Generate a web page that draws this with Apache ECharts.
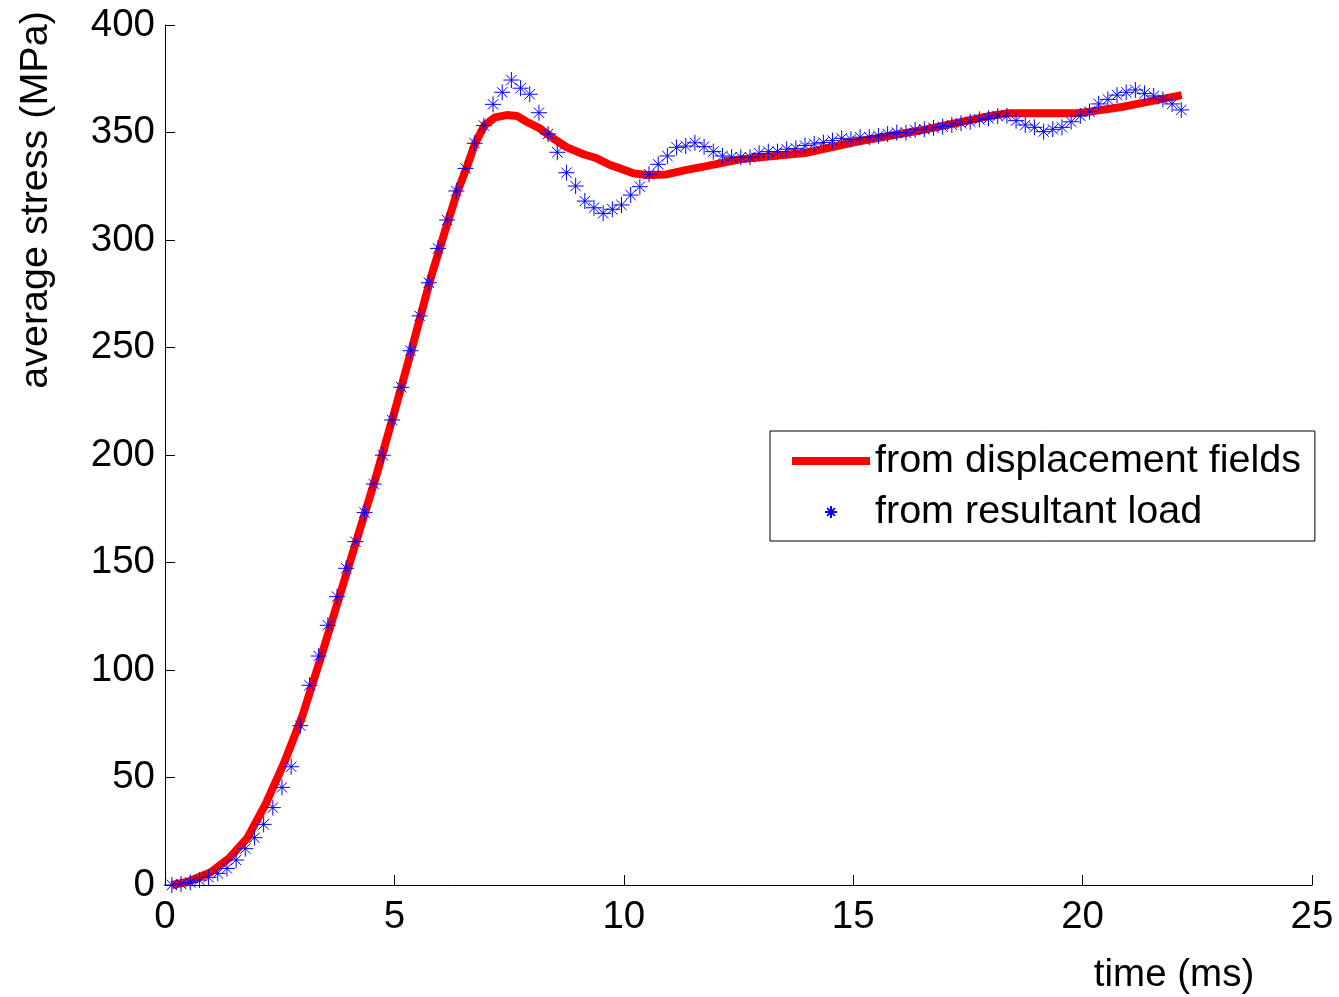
<!DOCTYPE html>
<html>
<head>
<meta charset="utf-8">
<script src="https://cdn.jsdelivr.net/npm/echarts@6/dist/echarts.min.js"></script>
<style>
html,body{margin:0;padding:0;background:#fff;}
#chart{width:1339px;height:997px;}
</style>
</head>
<body>
<div id="chart"></div>
<script>
// ---- data ----
const seriesNames = ['from displacement fields', 'from resultant load'];
const xAxisTitle = 'time (ms)';
const yAxisTitle = 'average stress (MPa)';
const xRange = [0, 25];
const xStep = 5;
const yRange = [0, 400];
const yStep = 50;

// red line: stress from displacement fields
const dispTime = [0.15, 0.5, 1.0, 1.4, 1.8, 2.2, 2.6, 3.0, 3.4, 3.8, 4.2, 4.6, 5.0, 5.4, 5.8, 6.13,
  6.36, 6.58, 6.76, 6.97, 7.19, 7.45, 7.67, 7.88, 8.17, 8.46, 8.76, 9.12, 9.41, 9.70, 9.92,
  10.21, 10.5, 10.93, 11.37, 11.66, 12.53, 13.99, 15.07, 16.53, 17.98, 18.35, 19.8, 20.16, 20.89, 22.16];
const dispStress = [0, 1.5, 6, 12.5, 22, 38, 57, 79, 106, 134, 162, 190, 220, 251, 283, 306,
  321.7, 334, 345, 353.5, 357, 358.1, 357.7, 355, 351.9, 347.3, 343.1, 339.9, 338, 334.9, 333.3,
  331, 330.2, 330.5, 332.6, 333.8, 337.5, 340.6, 345.7, 351.2, 357.7, 358.9, 358.9, 359.7, 362, 367.4];

// blue asterisks: stress from resultant load
const loadTime = [0.15, 0.35, 0.55, 0.75, 0.95, 1.15, 1.35, 1.55, 1.75, 1.95,
  2.15, 2.35, 2.55, 2.75, 2.95, 3.15, 3.35, 3.55, 3.75, 3.95,
  4.15, 4.35, 4.55, 4.75, 4.95, 5.15, 5.35, 5.55, 5.75, 5.95,
  6.15, 6.35, 6.55, 6.75, 6.95, 7.15, 7.35, 7.55, 7.75, 7.95,
  8.15, 8.35, 8.55, 8.75, 8.95, 9.15, 9.35, 9.55, 9.75, 9.95,
  10.15, 10.35, 10.55, 10.75, 10.95, 11.15, 11.35, 11.55, 11.75, 11.95,
  12.15, 12.35, 12.55, 12.75, 12.95, 13.15, 13.35, 13.55, 13.75, 13.95,
  14.15, 14.35, 14.55, 14.75, 14.95, 15.15, 15.35, 15.55, 15.75, 15.95,
  16.15, 16.35, 16.55, 16.75, 16.95, 17.15, 17.35, 17.55, 17.75, 17.95,
  18.15, 18.35, 18.55, 18.75, 18.95, 19.15, 19.35, 19.55, 19.75, 19.95,
  20.15, 20.35, 20.55, 20.75, 20.95, 21.15, 21.35, 21.55, 21.75, 21.95, 22.15];
const loadStress = [0, 0.5, 1.2, 2.3, 3.6, 5.4, 7.7, 11.6, 16.9, 22,
  28.2, 36, 45.4, 55, 74.1, 92.9, 106.5, 120.8, 134.1, 147.3,
  159.7, 173.2, 186.5, 199.9, 216.3, 231.5, 248.5, 264.7, 280.1, 296.1,
  309.3, 322.8, 333.3, 345, 353.2, 363.1, 368.7, 374.4, 370.6, 367.8,
  359.2, 349.3, 340.8, 331.3, 325.1, 318.1, 315, 312.4, 314.3, 316.3,
  320.9, 324.8, 330.6, 335.2, 339.1, 343.1, 343.7, 345.2, 343.4, 341.1,
  339.1, 338.5, 338.5, 338.5, 340.3, 341.1, 341.1, 342.2, 342.6, 343.9,
  344.7, 345.3, 346.2, 347.3, 346.8, 347.8, 347.8, 348.4, 349.3, 349.9,
  349.9, 351.2, 351.5, 352.2, 352.7, 353.5, 354.3, 355, 356.1, 356.6,
  357.7, 357.8, 355.5, 353.5, 352.4, 350.4, 351.5, 352.4, 355, 357.7,
  359.7, 363.3, 365.4, 367.4, 368.7, 369.8, 368.2, 367, 365.4, 363.3, 360.5];

// ---- chart ----
const FONT = '"Liberation Sans", Arial, Helvetica, sans-serif';
const FS = 38.5;
const FS_BIG = 39.5;
const asterisk = 'path://M0,-10L0,10M-10,0L10,0M-6.5,-6.5L6.5,6.5M-6.5,6.5L6.5,-6.5';

const chart = echarts.init(document.getElementById('chart'), null, {renderer: 'canvas'});

const axisCommon = {
  axisLine: {show: true, onZero: false, lineStyle: {color: '#000', width: 1}},
  axisTick: {show: true, inside: true, length: 10, lineStyle: {color: '#000', width: 1}},
  splitLine: {show: false}
};

chart.setOption({
  animation: false,
  backgroundColor: '#fff',
  grid: {left: 165, right: 27, top: 25, bottom: 112, containLabel: false},
  xAxis: Object.assign({
    type: 'value', min: xRange[0], max: xRange[1], interval: xStep,
    axisLabel: {color: '#000', fontFamily: FONT, fontSize: FS, margin: 13, showMaxLabel: true, showMinLabel: true}
  }, axisCommon),
  yAxis: Object.assign({
    type: 'value', min: yRange[0], max: yRange[1], interval: yStep,
    axisLabel: {color: '#000', fontFamily: FONT, fontSize: FS, margin: 10}
  }, axisCommon),
  legend: {
    show: true,
    orient: 'vertical',
    left: 770,
    top: 431,
    backgroundColor: '#fff',
    borderColor: '#000',
    borderWidth: 1,
    borderRadius: 0,
    padding: [10, 14, 9, 18],
    itemWidth: 78,
    itemHeight: 12,
    itemGap: 11,
    itemTextGap: 11,
    selectedMode: false,
    textStyle: {color: '#000', fontFamily: FONT, fontSize: FS_BIG, lineHeight: 40},
    data: [
      {name: seriesNames[0], itemStyle: {color: 'rgba(0,0,0,0)', borderWidth: 0, opacity: 0},
       lineStyle: {width: 8, color: '#ff0000', opacity: 1}},
      {name: seriesNames[1]}
    ]
  },
  graphic: [
    {
      type: 'text', x: 36, y: 200, rotation: Math.PI / 2,
      style: {text: yAxisTitle, fill: '#000', font: FS_BIG + 'px ' + FONT, align: 'center', verticalAlign: 'middle'}
    },
    {
      type: 'text', x: 1174, y: 975,
      style: {text: xAxisTitle, fill: '#000', font: FS + 'px ' + FONT, align: 'center', verticalAlign: 'middle'}
    }
  ],
  series: [
    {
      name: seriesNames[0],
      type: 'line',
      data: dispTime.map((t, i) => [t, dispStress[i]]),
      showSymbol: false,
      symbol: 'none',
      smooth: false,
      lineStyle: {color: '#ff0000', width: 8, cap: 'butt', join: 'round'},
      itemStyle: {color: '#ff0000'},
      z: 2
    },
    {
      name: seriesNames[1],
      type: 'scatter',
      data: loadTime.map((t, i) => [t, loadStress[i]]),
      symbol: asterisk,
      symbolSize: 16,
      itemStyle: {color: 'rgba(0,0,0,0)', borderColor: '#0000ff', borderWidth: 1, opacity: 1},
      emphasis: {disabled: true},
      z: 3
    }
  ]
});
</script>
</body>
</html>
